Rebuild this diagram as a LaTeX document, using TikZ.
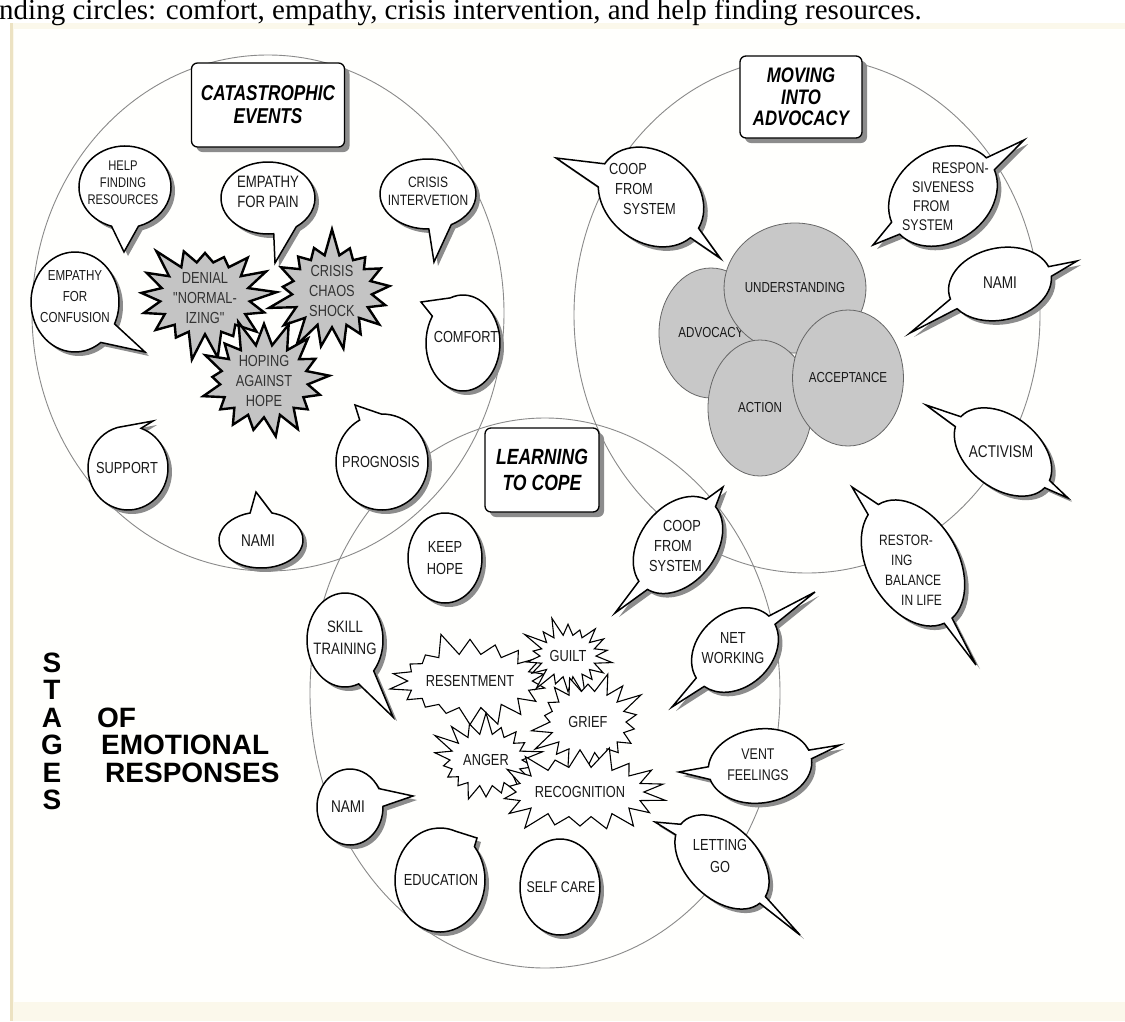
\documentclass[tikz,border=0pt]{standalone}
\usepackage{fontspec}
\setmainfont{Liberation Serif}
\newfontfamily\cf[FakeStretch=0.8]{Liberation Sans}
\newfontfamily\hf{Liberation Sans}
\usetikzlibrary{shapes.symbols,shapes.geometric,calc,shadows}
\definecolor{cream}{HTML}{FBF8EB}
\definecolor{creamline}{HTML}{ECE2C2}
\definecolor{paper}{HTML}{FFFFFD}
\definecolor{burstgray}{HTML}{C4C4C4}
\definecolor{ellgray}{HTML}{C8C8C8}
\definecolor{ringgray}{HTML}{8A8A8A}
\definecolor{shadowgray}{HTML}{8C8C8C}
\tikzset{
 ring/.style={draw=ringgray, line width=0.9pt},
 bubline/.style={draw=black, fill=white, line width=1.5pt},
 bubshadow/.style={fill=shadowgray},
 bubtext/.style={font=\cf\fontsize{16}{20}\selectfont, align=center, inner sep=0pt, text=black!90},
 titlebox/.style={draw=black, fill=white, line width=1.3pt, rounded corners=6pt,
   font=\cf\bfseries\itshape\fontsize{21.5}{23}\selectfont, align=center, inner sep=0pt,
   drop shadow={shadow xshift=5pt, shadow yshift=-5pt, fill=shadowgray, opacity=1}},
 grayburst/.style={starburst, draw=black, line width=2.4pt, fill=burstgray, starburst points=17,
   starburst point height=28pt, font=\cf\fontsize{16}{20}\selectfont, align=center, inner sep=0pt, text=black!80},
 whiteburst/.style={starburst, draw=black, line width=1.1pt, fill=white, starburst points=18,
   starburst point height=24pt, font=\cf\fontsize{16}{19}\selectfont, align=center, inner sep=0pt, text=black!90},
 grayell/.style={ellipse, draw=black!60, line width=0.8pt, fill=ellgray, inner sep=0pt,
   font=\cf\fontsize{14.5}{17}\selectfont, text=black!90},
 stagetext/.style={font=\hf\bfseries\fontsize{28}{28}\selectfont, inner sep=0pt},
}
\newcommand\setbub[5]{\def\bcx{#1}\def\bcy{#2}\def\brx{#3}\def\bry{#4}\def\brot{#5}}
\newcommand\tailA[3]{\def\taA{#1}\def\twA{#2}\def\tipA{#3}}
\newcommand\tailB[3]{\def\taB{#1}\def\twB{#2}\def\tipB{#3}}
\newcommand\plainbub{%
  \fill[bubshadow] (\bcx+4,\bcy+4) ellipse [x radius=\brx, y radius=\bry];
  \filldraw[bubline] (\bcx,\bcy) ellipse [x radius=\brx, y radius=\bry];}
\newcommand\onepath[1]{(#1) -- ({\brx*cos(\sa)},{\bry*sin(\sa)}) arc[start angle=\sa,end angle=\ea,x radius=\brx,y radius=\bry] -- cycle}
\newcommand\onebub{%
  \pgfmathsetmacro\sa{\taA+\twA-(\brot)}%
  \pgfmathsetmacro\ea{\taA-\twA-(\brot)+360}%
  \coordinate (tA) at (\tipA);
  \coordinate (sA) at ($(\tipA)+(4,4)$);
  \begin{scope}[shift={(\bcx+4,\bcy+4)},rotate=-(\brot)]
    \fill[bubshadow] \onepath{sA};
  \end{scope}
  \begin{scope}[shift={(\bcx,\bcy)},rotate=-(\brot)]
    \filldraw[bubline] \onepath{tA};
  \end{scope}}
\newcommand\twopath[2]{(#1) -- ({\brx*cos(\saA)},{\bry*sin(\saA)}) arc[start angle=\saA,end angle=\eaB,x radius=\brx,y radius=\bry] -- (#2) -- ({\brx*cos(\saB)},{\bry*sin(\saB)}) arc[start angle=\saB,end angle=\eaA,x radius=\brx,y radius=\bry] -- cycle}
\newcommand\twobub{%
  \pgfmathsetmacro\saA{\taA+\twA-(\brot)}%
  \pgfmathsetmacro\eaB{\taB-\twB-(\brot)}%
  \pgfmathsetmacro\saB{\taB+\twB-(\brot)}%
  \pgfmathsetmacro\eaA{\taA-\twA-(\brot)+360}%
  \coordinate (tA) at (\tipA);
  \coordinate (sA) at ($(\tipA)+(4,4)$);
  \coordinate (tB) at (\tipB);
  \coordinate (sB) at ($(\tipB)+(4,4)$);
  \begin{scope}[shift={(\bcx+4,\bcy+4)},rotate=-(\brot)]
    \fill[bubshadow] \twopath{sA}{sB};
  \end{scope}
  \begin{scope}[shift={(\bcx,\bcy)},rotate=-(\brot)]
    \filldraw[bubline] \twopath{tA}{tB};
  \end{scope}}
\begin{document}
\begin{tikzpicture}[x=1pt,y=-1pt]
\useasboundingbox (0,0) rectangle (1125,1021);
\fill[white] (0,0) rectangle (1125,1021);
\fill[cream] (10,23) rectangle (1125,1021);
\fill[paper] (14,29) rectangle (1125,1002);
\fill[creamline] (10,23) rectangle (13,1021);
\node[anchor=base west, inner sep=0pt, font=\fontsize{29}{30}\selectfont] (toptext) at (-1,19)
  {nding circles: comfort, empathy, crisis intervention, and help finding resources.};

% the three stage circles
\draw[ring] (268,313) ellipse [x radius=236, y radius=258];
\draw[ring] (807,315) ellipse [x radius=233, y radius=258];
\draw[ring] (545,693) ellipse [x radius=235, y radius=275];

% ---------- circle 1 : catastrophic events ----------
\setbub{125}{187}{46}{41}{0}\tailA{90}{17}{124,252}\onebub
\node[bubtext, font=\cf\fontsize{14}{17}\selectfont] (help) at (123,183) {HELP\\FINDING\\RESOURCES};
\setbub{268}{198}{47}{36}{0}\tailA{68}{15}{275,263}\onebub
\node[bubtext, font=\cf\fontsize{16.5}{20}\selectfont] (pain) at (268,192) {EMPATHY\\FOR PAIN};
\setbub{428}{194}{48}{35}{0}\tailA{75}{14}{434,262}\onebub
\node[bubtext, font=\cf\fontsize{15}{18}\selectfont] (crisisint) at (428,191) {CRISIS\\INTERVETION};
\setbub{75}{302}{44}{50}{0}\tailA{40}{14}{145,352}\onebub
\node[bubtext, font=\cf\fontsize{14.5}{21}\selectfont] (confusion) at (75,297) {EMPATHY\\FOR\\CONFUSION};
\setbub{463}{343}{37}{48}{0}\tailA{232}{18}{421,302}\onebub
\node[bubtext] (comfort) at (466,337) {COMFORT};
\setbub{128}{468}{40}{42}{0}\tailA{272}{17}{153,421}\onebub
\node[bubtext] (support) at (127,468) {SUPPORT};
\setbub{382}{462}{46}{48}{0}\tailA{255}{14}{355,405}\onebub
\node[bubtext] (prognosis) at (381,462) {PROGNOSIS};
\setbub{261}{540}{42}{28}{0}\tailA{270}{15}{256,492}\onebub
\node[bubtext, font=\cf\fontsize{17}{20}\selectfont] (nami1) at (258,541) {NAMI};

\node[grayburst, random starburst=3, minimum width=134pt, minimum height=120pt] (denial) at (205,298) {DENIAL\\"NORMAL-\\IZING"};
\node[grayburst, random starburst=7, minimum width=136pt, minimum height=124pt] (chaos) at (332,291) {CRISIS\\CHAOS\\SHOCK};
\node[grayburst, random starburst=11, minimum width=144pt, minimum height=128pt] (hoping) at (264,381) {HOPING\\AGAINST\\HOPE};

\node[titlebox, minimum width=153pt, minimum height=84pt] (cat) at (268,105) {CATASTROPHIC\\EVENTS};

% ---------- circle 2 : moving into advocacy ----------
\node[grayell, minimum width=104pt, minimum height=130pt] (advocacy) at (711,333) {ADVOCACY};
\node[grayell, minimum width=110pt, minimum height=130pt] (understanding) at (795,288) {UNDERSTANDING};
\node[grayell, minimum width=104pt, minimum height=136pt] (action) at (760,408) {ACTION};
\node[grayell, minimum width=110pt, minimum height=136pt] (acceptance) at (848,378) {ACCEPTANCE};

\setbub{651}{197}{57}{45}{38}\tailA{40}{8}{720,258}\tailB{200}{15}{556,158}\twobub
\node[bubtext, align=left, anchor=west] (coop2) at (609,189) {COOP\\\hspace*{6pt}FROM\\\hspace*{14pt}SYSTEM};
\setbub{943}{196}{58}{46}{-35}\tailA{146}{9}{873,245}\tailB{326}{9}{1024,140}\twobub
\node[bubtext, align=left, anchor=west, font=\cf\fontsize{15.5}{19}\selectfont] (respon) at (902,197) {\hspace*{30pt}RESPON-\\\hspace*{10pt}SIVENESS\\\hspace*{11pt}FROM\\SYSTEM};
\setbub{1000}{284}{52}{36}{-12}\tailA{152}{9}{910,333}\tailB{345}{8}{1077,261}\twobub
\node[bubtext, font=\cf\fontsize{17}{20}\selectfont] (nami2) at (1000,283) {NAMI};
\setbub{1003}{452}{55}{36}{38}\tailA{35}{7}{1068,498}\tailB{212}{9}{926,405}\twobub
\node[bubtext, font=\cf\fontsize{17}{20}\selectfont] (activism) at (1001,452) {ACTIVISM};
\setbub{913}{563}{68}{45}{60}\tailA{58}{6}{976,665}\tailB{230}{9}{852,487}\twobub
\node[bubtext, align=left, anchor=west, font=\cf\fontsize{15}{20}\selectfont] (restoring) at (879,570) {RESTOR-\\\hspace*{12pt}ING\\\hspace*{6pt}BALANCE\\\hspace*{22pt}IN LIFE};

\node[titlebox, minimum width=122pt, minimum height=82pt, font=\cf\bfseries\itshape\fontsize{21}{21.5}\selectfont] (adv) at (801,97) {MOVING\\INTO\\ADVOCACY};

% ---------- circle 3 : learning to cope ----------
\setbub{445}{558}{37}{45}{0}\plainbub
\node[bubtext, font=\cf\fontsize{16}{22}\selectfont] (keephope) at (445,558) {KEEP\\HOPE};
\setbub{678}{545}{54}{38}{-52}\tailA{132}{9}{615,613}\tailB{308}{9}{723,487}\twobub
\node[bubtext, align=left, anchor=west] (coop3) at (649,546) {\hspace*{14pt}COOP\\\hspace*{5pt}FROM\\SYSTEM};
\setbub{345}{640}{38}{47}{0}\tailA{55}{14}{393,717}\onebub
\node[bubtext, font=\cf\fontsize{16.5}{22}\selectfont] (skill) at (345,638) {SKILL\\TRAINING};
\setbub{735}{650}{48}{37}{-42}\tailA{137}{9}{672,707}\tailB{322}{8}{815,592}\twobub
\node[bubtext] (networking) at (733,648) {NET\\WORKING};
\setbub{760}{766}{52}{37}{-8}\tailA{172}{10}{679,772}\tailB{345}{7}{840,745}\twobub
\node[bubtext, font=\cf\fontsize{15.5}{21}\selectfont] (vent) at (758,765) {VENT\\FEELINGS};
\setbub{350}{807}{33}{38}{0}\tailA{345}{14}{413,796}\onebub
\node[bubtext, font=\cf\fontsize{17}{20}\selectfont] (nami3) at (348,807) {NAMI};
\setbub{722}{862}{56}{36}{45}\tailA{42}{7}{800,935}\tailB{212}{9}{655,822}\twobub
\node[bubtext, font=\cf\fontsize{16}{22}\selectfont] (letting) at (720,856) {LETTING\\GO};
\setbub{440}{880}{45}{52}{0}\tailA{305}{15}{477,838}\onebub
\node[bubtext] (education) at (441,880) {EDUCATION};
\setbub{560}{887}{40}{48}{0}\plainbub
\node[bubtext, font=\cf\fontsize{15.5}{20}\selectfont] (selfcare) at (561,887) {SELF CARE};

\node[whiteburst, random starburst=5, minimum width=140pt, minimum height=102pt] (resentment) at (470,681) {RESENTMENT};
\node[whiteburst, random starburst=9, minimum width=104pt, minimum height=90pt] (guilt) at (568,656) {GUILT};
\node[whiteburst, random starburst=13, minimum width=124pt, minimum height=110pt] (grief) at (588,722) {GRIEF};
\node[whiteburst, random starburst=17, minimum width=120pt, minimum height=100pt] (anger) at (486,760) {ANGER};
\node[whiteburst, random starburst=21, minimum width=174pt, minimum height=98pt] (recognition) at (580,792) {RECOGNITION};

\node[titlebox, minimum width=114pt, minimum height=84pt, font=\cf\bfseries\itshape\fontsize{22}{26}\selectfont] (cope) at (542,470) {LEARNING\\TO COPE};

% ---------- legend ----------
\foreach \l [count=\i] in {S,T,A,G,E,S}
  \node[stagetext, anchor=base] (st\i) at (52,644.5+27.5*\i) {\l};
\node[stagetext, anchor=base west] (of) at (97,727) {OF};
\node[stagetext, anchor=base west] (emotional) at (101,754.5) {EMOTIONAL};
\node[stagetext, anchor=base west] (responses) at (105,782) {RESPONSES};
\end{tikzpicture}
\end{document}
